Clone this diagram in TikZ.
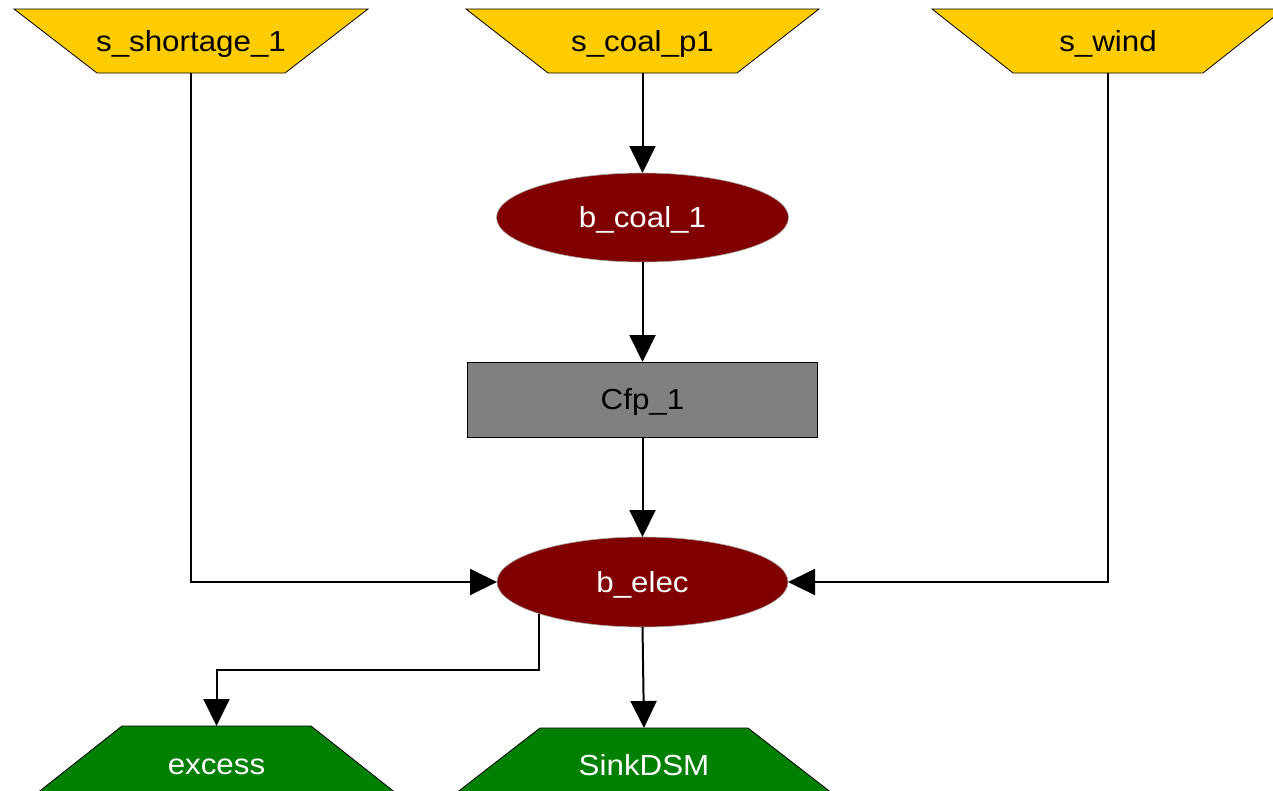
\documentclass[tikz,border=0pt]{standalone}
\usepackage{fontspec}
\newfontfamily\labfont[FakeStretch=1.08]{Liberation Sans}
\usetikzlibrary{shapes.geometric,arrows.meta,backgrounds}
\definecolor{srcyellow}{HTML}{FFCC00}
\definecolor{busred}{HTML}{800000}
\definecolor{sinkgreen}{HTML}{008000}
\definecolor{trgray}{HTML}{808080}
\begin{document}
\begin{tikzpicture}[x=1pt,y=-1pt,
  txt/.style={font=\labfont\fontsize{29}{34}\selectfont, inner sep=0pt, outer sep=0pt, text height=20.8pt, text depth=0pt},
  srcbox/.style={txt, rectangle, minimum width=354pt, minimum height=64pt, text=black},
  sinkbox/.style={txt, rectangle, text=white},
  busnode/.style={txt, ellipse, fill=busred, draw=black!35, line width=0.6pt, text=white, minimum width=292pt, minimum height=89pt},
  trbox/.style={txt, rectangle, fill=trgray, draw=black, line width=0.8pt, minimum width=350pt, minimum height=75pt},
  flow/.style={line width=2pt, -{Triangle[width=26pt,length=27pt]}},
  shapeline/.style={draw=black, line width=0.8pt}
]
\useasboundingbox (0,0) rectangle (1273,790);

\node[srcbox] (ss) at (191,41) {s\_shortage\_1};
\node[srcbox, minimum width=353pt] (sc) at (642.5,41) {s\_coal\_p1};
\node[srcbox, minimum width=352pt] (sw) at (1108,41) {s\_wind};
\node[busnode] (bc) at (642.5,217.5) {b\_coal\_1};
\node[trbox] (cfp) at (642.5,399.5) {Cfp\_1};
\node[busnode, minimum width=291pt, minimum height=90pt] (be) at (642.5,582) {b\_elec};
\node[sinkbox, minimum width=384pt, minimum height=77pt] (ex) at (216.5,764.5) {excess};
\node[sinkbox, minimum width=399pt, minimum height=74pt] (sk) at (644,765) {SinkDSM};

\begin{pgfonlayer}{background}
\filldraw[fill=srcyellow, shapeline] (ss.north west) -- (ss.north east) -- ([xshift=-83pt]ss.south east) -- ([xshift=83pt]ss.south west) -- cycle;
\filldraw[fill=srcyellow, shapeline] (sc.north west) -- (sc.north east) -- ([xshift=-82pt]sc.south east) -- ([xshift=82pt]sc.south west) -- cycle;
\filldraw[fill=srcyellow, shapeline] (sw.north west) -- (sw.north east) -- ([xshift=-81pt]sw.south east) -- ([xshift=81pt]sw.south west) -- cycle;
\filldraw[fill=sinkgreen, shapeline] ([xshift=97.5pt]ex.north west) -- ([xshift=-97.5pt]ex.north east) -- (ex.south east) -- (ex.south west) -- cycle;
\filldraw[fill=sinkgreen, shapeline] ([xshift=95.5pt]sk.north west) -- ([xshift=-95.5pt]sk.north east) -- (sk.south east) -- (sk.south west) -- cycle;
\end{pgfonlayer}

\coordinate (exbend) at (216.5,670);
\draw[flow] (sc) -- (bc);
\draw[flow] (bc) -- (cfp);
\draw[flow] (cfp) -- (be);
\draw[flow] (ss.south) |- (be.west);
\draw[flow] (sw.south) |- (be.east);
\draw[flow] (be.197) |- (exbend) -- (ex.north);
\draw[flow] (be.south) -- (sk.north);
\end{tikzpicture}
\end{document}
